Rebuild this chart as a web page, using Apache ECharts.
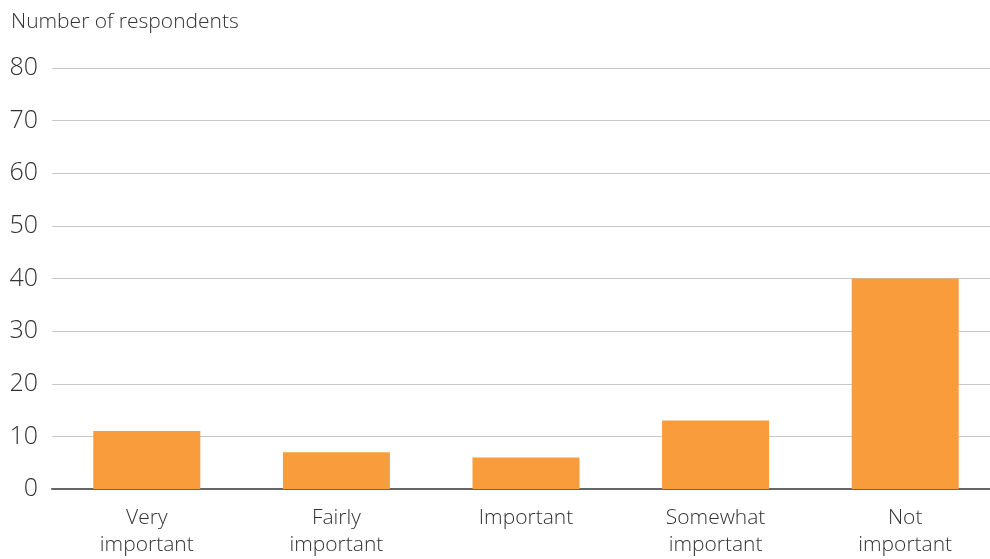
<!DOCTYPE html>
<html>
<head>
<meta charset="utf-8">
<script src="https://cdn.jsdelivr.net/npm/echarts@6/dist/echarts.min.js"></script>
<style>
  html, body { margin: 0; padding: 0; background: #fff; overflow: hidden; }
  #chart { width: 1000px; height: 559px; }
</style>
</head>
<body>
<div id="chart"></div>
<script>
// Survey answers: how important the topic is to respondents
const categories = ['Very\nimportant', 'Fairly\nimportant', 'Important', 'Somewhat\nimportant', 'Not\nimportant'];
const respondents = [11, 7, 6, 13, 40];
const yTicks = { min: 0, max: 80, interval: 10 };
const axisTitle = 'Number of respondents';

const FONT = '"Open Sans", Roboto, sans-serif';
const TEXT = '#333333';

const chart = echarts.init(document.getElementById('chart'), null, { renderer: 'canvas' });
chart.setOption({
  animation: false,
  backgroundColor: '#ffffff',
  title: {
    text: axisTitle,
    left: 6,
    top: 7,
    textStyle: { fontFamily: FONT, fontSize: 21, fontWeight: 300, color: TEXT }
  },
  grid: { left: 52, right: 0, top: 68, bottom: 69, containLabel: false },
  xAxis: {
    type: 'category',
    data: categories,
    axisLine: { show: true, lineStyle: { color: '#666666', width: 2 } },
    axisTick: { show: false },
    axisLabel: {
      fontFamily: FONT, fontSize: 21, fontWeight: 300, color: TEXT,
      lineHeight: 27, margin: 16, interval: 0
    }
  },
  yAxis: {
    type: 'value',
    min: yTicks.min, max: yTicks.max, interval: yTicks.interval,
    axisLine: { show: false },
    axisTick: { show: false },
    splitLine: { show: true, lineStyle: { color: '#c8c8c8', width: 1 } },
    axisLabel: {
      fontFamily: FONT, fontSize: 25, fontWeight: 300, color: TEXT, margin: 14
    }
  },
  series: [{
    type: 'bar',
    data: respondents,
    barWidth: 107,
    itemStyle: { color: '#f89c3c' },
    emphasis: { disabled: true }
  }]
});
</script>
</body>
</html>
